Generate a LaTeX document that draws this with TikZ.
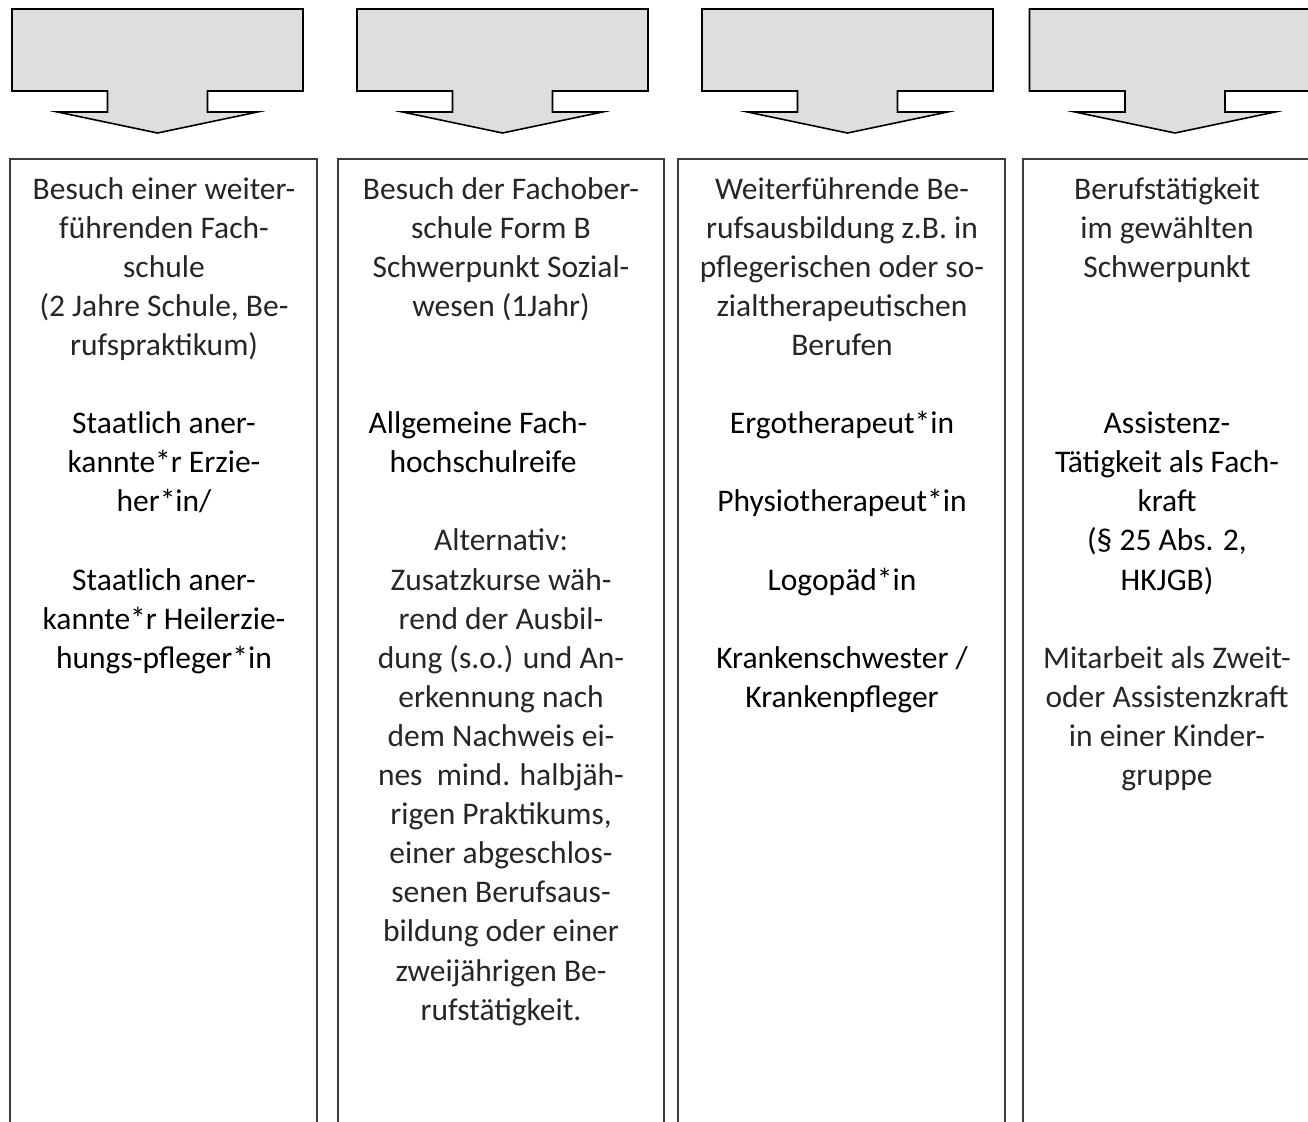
\documentclass[tikz,border=0pt]{standalone}
\usepackage{fontspec}
\setmainfont{Carlito}
\definecolor{arrowfill}{RGB}{222,222,222}
\definecolor{boxline}{RGB}{60,60,60}
\newcommand{\lighttxt}{\color{black!85}}
\newcommand{\regtxt}{\color{black}}
\newcommand{\blank}{39.1pt}
\newcommand{\colfont}{\fontsize{31.5}{39.1}\selectfont}
\tikzset{
  bigarrow/.style={draw=black, line width=1.6pt, fill=arrowfill, line join=miter},
  colbox/.style={draw=boxline, line width=1.2pt},
  coltext/.style={anchor=base, inner sep=0pt}
}
\newcommand{\downarrowshape}[1]{%
  \draw[bigarrow] (#1-145.5,9) -- (#1+145.5,9) -- (#1+145.5,91) -- (#1+50,91) -- (#1+50,112)
    -- (#1+100,112) -- (#1,133) -- (#1-100,112) -- (#1-50,112) -- (#1-50,91) -- (#1-145.5,91) -- cycle;}
\begin{document}
\begin{tikzpicture}[x=1pt,y=-1pt]
\clip (0,0) rectangle (1308,1121);
\fill[white] (0,0) rectangle (1308,1121);

% arrows
\downarrowshape{157.5}
\downarrowshape{502.5}
\downarrowshape{847.5}
\downarrowshape{1175}

% open boxes
\draw[colbox] (10,1125) -- (10,159) -- (317,159) -- (317,1125);
\draw[colbox] (338,1125) -- (338,159) -- (664,159) -- (664,1125);
\draw[colbox] (678,1125) -- (678,159) -- (1005,159) -- (1005,1125);
\draw[colbox] (1023,1125) -- (1023,159) -- (1330,159) -- (1330,1125);

% column texts
\node[coltext] (t1) at (164,199) {\parbox[t]{330pt}{\centering\colfont\leavevmode
\lighttxt Besuch einer weiter-\\führenden Fach-\\schule\\(2 Jahre Schule, Be-\\rufspraktikum)\\[\blank]
\regtxt Staatlich aner-\\kannte*r Erzie-\\her*in/\\[\blank]Staatlich aner-\\kannte*r Heilerzie-\\hungs-pfleger*in}};

\node[coltext] (t2) at (501,199) {\parbox[t]{330pt}{\centering\colfont\leavevmode
\lighttxt Besuch der Fachober-\\schule Form B\\Schwerpunkt Sozial-\\wesen (1Jahr)\\[78.2pt]
\regtxt Allgemeine Fach-\hspace*{46pt}\null\\hochschulreife\hspace*{36pt}\null\\[\blank]
\lighttxt Alternativ:\\Zusatzkurse wäh-\\rend der Ausbil-\\dung (s.o.) und An-\\erkennung nach\\dem Nachweis ei-\\nes~~mind. halbjäh-\\rigen Praktikums,\\einer abgeschlos-\\senen Berufsaus-\\bildung oder einer\\zweijährigen Be-\\rufstätigkeit.}};

\node[coltext] (t3) at (842,199) {\parbox[t]{330pt}{\centering\colfont\leavevmode
\lighttxt Weiterführende Be-\\rufsausbildung z.B. in\\pflegerischen oder so-\\zialtherapeutischen\\Berufen\\[\blank]
\regtxt Ergotherapeut*in\\[\blank]Physiotherapeut*in\\[\blank]Logopäd*in\\[\blank]Krankenschwester /\\Krankenpfleger}};

\node[coltext] (t4) at (1167,199) {\parbox[t]{330pt}{\centering\colfont\leavevmode
\lighttxt Berufstätigkeit\\im gewählten\\Schwerpunkt\\[117.3pt]
\regtxt Assistenz-\\Tätigkeit als Fach-\\kraft\\(§ 25 Abs. 2,\\HKJGB)\\[\blank]
\lighttxt Mitarbeit als Zweit-\\oder Assistenzkraft\\in einer Kinder-\\gruppe}};
\end{tikzpicture}
\end{document}
